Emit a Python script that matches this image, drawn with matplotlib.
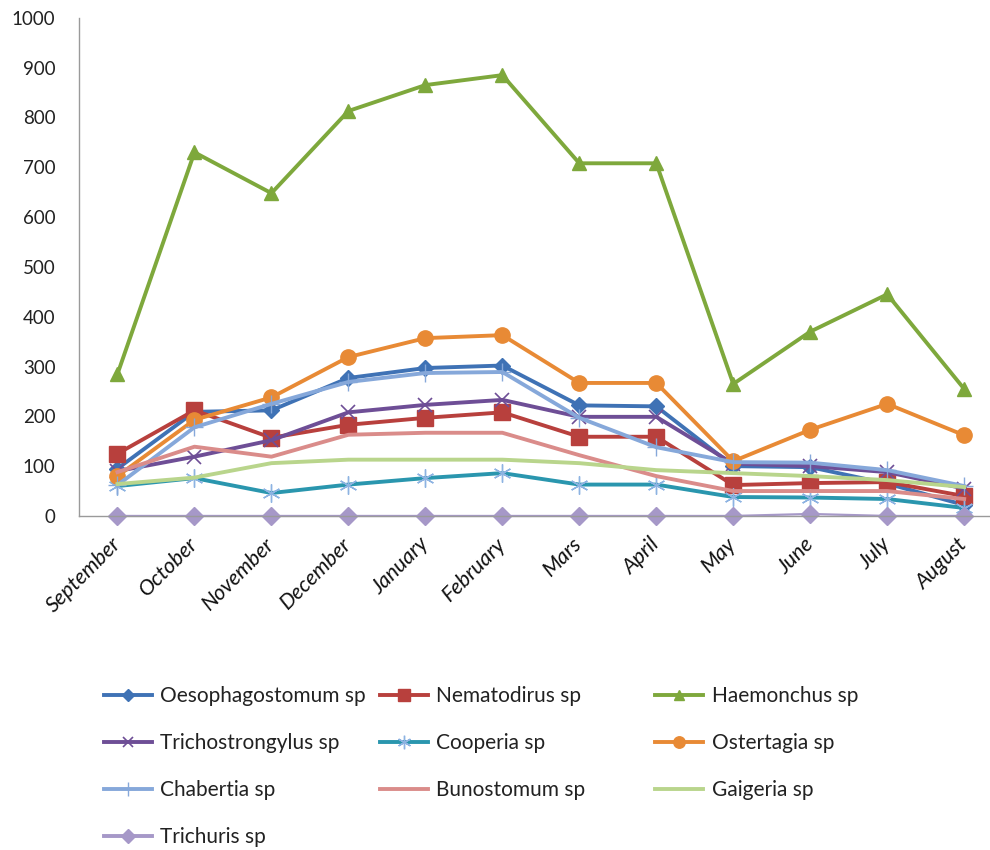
import matplotlib
matplotlib.use("Agg")
import matplotlib.pyplot as plt
from matplotlib.lines import Line2D

plt.rcParams['font.family'] = ['Lato', 'DejaVu Sans']

months = ["September", "October", "November", "December", "January", "February",
          "Mars", "April", "May", "June", "July", "August"]

oesophagostomum = [95, 209, 212, 277, 297, 302, 222, 220, 100, 98, 65, 22]
nematodirus = [125, 212, 157, 183, 197, 208, 159, 159, 62, 66, 68, 40]
haemonchus = [285, 730, 648, 813, 865, 885, 708, 708, 265, 370, 445, 255]
trichostrongylus = [90, 119, 152, 208, 223, 233, 199, 199, 105, 100, 88, 55]
cooperia = [60, 76, 46, 63, 76, 86, 63, 63, 38, 37, 34, 16]
ostertagia = [80, 193, 238, 319, 357, 363, 267, 267, 110, 173, 225, 162]
chabertia = [62, 178, 225, 269, 287, 289, 197, 138, 108, 107, 92, 60]
bunostomum = [88, 139, 119, 163, 167, 167, 122, 80, 50, 50, 50, 34]
gaigeria = [64, 77, 106, 113, 113, 113, 106, 92, 86, 80, 72, 58]
trichuris = [0, 0, 0, 0, 0, 0, 0, 0, 0, 4, 0, 0]

asterisk = (6, 2, 0)

series = [
    ("Oesophagostomum sp", oesophagostomum, "#3F72B5", "D", 8, None),
    ("Nematodirus sp", nematodirus, "#B8403D", "s", 11, None),
    ("Haemonchus sp", haemonchus, "#7EA83C", "^", 10, None),
    ("Trichostrongylus sp", trichostrongylus, "#6E4E96", "x", 10, 1.2),
    ("Cooperia sp", cooperia, "#2A96AE", asterisk, 13, 1.0),
    ("Ostertagia sp", ostertagia, "#E88A35", "o", 11, None),
    ("Chabertia sp", chabertia, "#86A8DA", "+", 13, 1.0),
    ("Bunostomum sp", bunostomum, "#DA8C8A", None, 0, None),
    ("Gaigeria sp", gaigeria, "#B9D58C", None, 0, None),
    ("Trichuris sp", trichuris, "#A698C8", "D", 9, None),
]

fig = plt.figure(figsize=(9.9, 8.5), dpi=100)
ax = fig.add_axes([0.0798, 0.393, 0.933, 0.586])

x = list(range(len(months)))
handles = {}
for name, vals, color, marker, ms, mew in series:
    kw = dict(color=color, lw=2.8, marker=marker, markersize=ms,
              markerfacecolor=color, markeredgecolor=color,
              solid_joinstyle="round", label=name)
    if mew is not None:
        kw["markeredgewidth"] = mew
        kw["markeredgecolor"] = "#8DB3E2" if name == "Cooperia sp" else color
    if name == "Trichuris sp":
        kw["lw"] = 1.6
    line, = ax.plot(x, vals, clip_on=False, **kw)
    handles[name] = line

ax.set_xlim(-0.5, len(months) - 0.5)
ax.set_ylim(0, 1000)
ax.set_yticks(range(0, 1001, 100))
ax.set_xticks(x)
ax.set_xticklabels(months, rotation=45, ha="right", va="center",
                   rotation_mode="anchor", fontsize=15.5, style="italic",
                   color="#111111")
ax.tick_params(axis="x", length=0, pad=18)
ax.tick_params(axis="y", length=0, pad=17, labelsize=13.5, labelcolor="#222222")
for s in ("top", "right"):
    ax.spines[s].set_visible(False)
for s in ("left", "bottom"):
    ax.spines[s].set_color("#9A9A9A")
    ax.spines[s].set_linewidth(1.0)

# legend laid out row by row in three columns
columns = [
    ["Oesophagostomum sp", "Trichostrongylus sp", "Chabertia sp", "Trichuris sp"],
    ["Nematodirus sp", "Cooperia sp", "Bunostomum sp"],
    ["Haemonchus sp", "Ostertagia sp", "Gaigeria sp"],
]
col_x = [0.105, 0.384, 0.662]
for cx, names in zip(col_x, columns):
    hs = []
    for n in names:
        src = handles[n]
        ms = src.get_markersize()
        h = Line2D([], [], color=src.get_color(), lw=2.8,
                   marker=src.get_marker(), markersize=ms * 0.75,
                   markerfacecolor=src.get_markerfacecolor(),
                   markeredgecolor=src.get_markeredgecolor(),
                   markeredgewidth=src.get_markeredgewidth())
        hs.append(h)
    leg = fig.legend(hs, names, loc="upper left", bbox_to_anchor=(cx, 0.193),
                     frameon=False, fontsize=15, handlelength=2.3,
                     handletextpad=0.4, labelspacing=1.3, borderaxespad=0,
                     borderpad=0, labelcolor="#222222")

fig.savefig("out.png", dpi=100, facecolor="white")
